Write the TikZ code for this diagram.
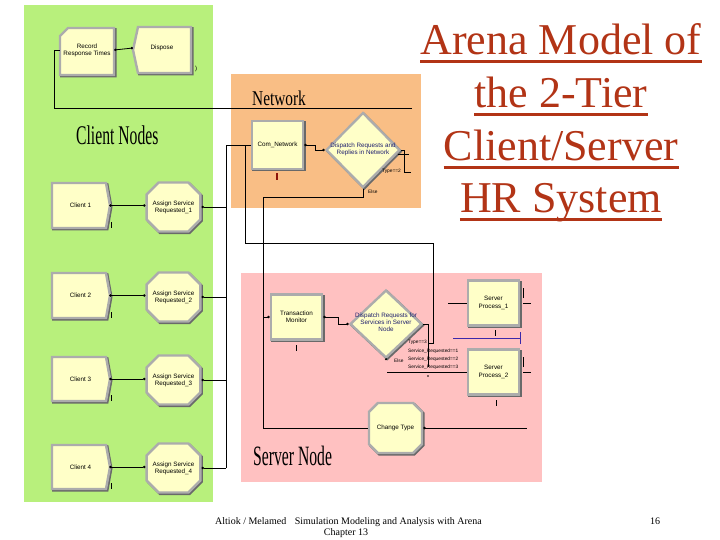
\documentclass[tikz,border=0pt]{standalone}
\usepackage{graphicx}
\usepackage{fontspec}
\setmainfont{Liberation Serif}
\newfontfamily\modfont{Liberation Sans}
\usetikzlibrary{shapes.geometric,shapes.misc,arrows.meta,calc,shadows}

\definecolor{clientbg}{RGB}{184,240,124}
\definecolor{netbg}{RGB}{249,190,133}
\definecolor{srvbg}{RGB}{255,193,193}
\definecolor{modfill}{RGB}{255,255,200}
\definecolor{modedge}{RGB}{172,172,172}
\definecolor{modshadow}{RGB}{105,105,105}
\definecolor{titlered}{RGB}{178,52,22}
\definecolor{decnavy}{RGB}{30,30,110}
\definecolor{ctrred}{RGB}{140,20,10}
\definecolor{lineblue}{RGB}{60,40,170}

\begin{document}
\begin{tikzpicture}[x=1pt,y=-1pt,
  shade3d/.style={drop shadow={shadow xshift=1.3pt, shadow yshift=-1.3pt, fill=modshadow, draw=modshadow, line width=2.4pt, opacity=1}},
  modpath/.style={fill=modfill, draw=modedge, line width=2.4pt, line join=miter, shade3d},
  modtext/.style={inner sep=0pt, align=center, font=\modfont\fontsize{6.3}{7.2}\selectfont},
  boxmod/.style={modtext, rectangle, fill=modfill, draw=modedge, line width=2.4pt, shade3d},
  assignmod/.style={modtext, chamfered rectangle, chamfered rectangle xsep=6pt, chamfered rectangle ysep=6pt, fill=modfill, draw=modedge, line width=2.4pt, shade3d, minimum width=53pt, minimum height=49pt},
  decmod/.style={diamond, inner sep=0pt, fill=modfill, draw=modedge, line width=2.4pt, shade3d},
  dectext/.style={modtext, text=decnavy},
  wire/.style={draw=black, line width=0.8pt},
  dotwire/.style={wire, {Circle[length=2.4pt]}-{Circle[length=2.4pt]}},
  ctr/.style={draw=black, line width=0.9pt},
  tinylab/.style={inner sep=0pt, font=\modfont\fontsize{4.8}{5.5}\selectfont},
  seclab/.style={inner sep=0pt, anchor=base west},
  titleline/.style={inner sep=0pt, anchor=base, text=titlered, font=\fontsize{44}{52}\selectfont},
  uline/.style={draw=titlered, line width=2.4pt},
  foot/.style={inner sep=0pt, anchor=base, font=\fontsize{10}{11}\selectfont}
]
\useasboundingbox (0,0) rectangle (720,540);

% ---------- backgrounds ----------
\fill[clientbg] (24,5) rectangle (213,502);
\fill[netbg] (231,74) rectangle (421,208);
\fill[srvbg] (241,273) rectangle (542,482);

% ---------- title ----------
\node[titleline] (t1) at (561,55) {Arena Model of};
\node[titleline] (t2) at (561,108) {the 2-Tier};
\node[titleline] (t3) at (561,161) {Client/Server};
\node[titleline] (t4) at (561,213) {HR System};
\foreach \t in {t1,t2,t3,t4}{
  \draw[uline] ([yshift=-6.5pt]\t.base west) -- ([yshift=-6.5pt]\t.base east);
}

% ---------- section labels ----------
\node[seclab] (lblclient) at (76,145) {\scalebox{0.58}[1]{\fontsize{27}{30}\selectfont Client Nodes}};
\node[seclab] (lblnet) at (252,106) {\scalebox{0.73}[1]{\fontsize{21}{24}\selectfont Network}};
\node[seclab] (lblsrv) at (253,465) {\scalebox{0.56}[1]{\fontsize{28}{30}\selectfont Server Node}};

% ---------- client side: record and dispose ----------
\draw[modpath] (68,28) -- (114,28) -- (114,75) -- (60,75) -- (60,36) -- cycle;
\node[modtext, minimum width=54pt, minimum height=47pt] (rec) at (87,50) {Record\\Response Times};
\draw[modpath] (138,27) -- (191,27) -- (191,73) -- (138,73) -- (133,50) -- cycle;
\node[modtext, minimum width=58pt, minimum height=46pt] (disp) at (162,48) {Dispose};
\node[tinylab, font=\modfont\fontsize{6}{7}\selectfont] (dispctr) at (196,69) {)};

% ---------- client create modules ----------
\foreach \i/\yt/\yb in {1/183/228, 2/273/318, 3/357/401, 4/445/489}{
  \draw[modpath] (52,\yt) -- (106,\yt) -- (110,{(\yt+\yb)/2}) -- (106,\yb) -- (52,\yb) -- cycle;
  \draw[ctr] (111,\yb-6) -- (111,\yb);
}
\node[modtext, minimum width=57pt, minimum height=45pt] (cli1) at (80.5,205.5) {Client 1};
\node[modtext, minimum width=57pt, minimum height=45pt] (cli2) at (80.5,295.5) {Client 2};
\node[modtext, minimum width=57pt, minimum height=44pt] (cli3) at (80.5,379) {Client 3};
\node[modtext, minimum width=57pt, minimum height=44pt] (cli4) at (80.5,467) {Client 4};

\node[assignmod] (asg1) at (173.5,207) {Assign Service\\Requested\_1};
\node[assignmod] (asg2) at (173.5,297) {Assign Service\\Requested\_2};
\node[assignmod] (asg3) at (173.5,380) {Assign Service\\Requested\_3};
\node[assignmod] (asg4) at (173.5,468) {Assign Service\\Requested\_4};

% ---------- network modules ----------
\node[boxmod, minimum width=51pt, minimum height=48pt] (comnet) at (277.5,145) {Com\_Network};
\draw[ctr, draw=ctrred, line width=1.3pt] (277,173) -- (277,180);
\node[decmod, minimum width=74pt, minimum height=75pt] (netdec) at (363,150) {};
\node[dectext] (netdectxt) at (363,149) {Dispatch Requests and\\Replies in Network};
\node[tinylab, anchor=east] (nettype) at (401,171) {Type==2};
\node[tinylab, anchor=west] (netelse) at (368,192) {Else};

% ---------- server modules ----------
\node[boxmod, minimum width=51pt, minimum height=45pt] (tm) at (296.5,317) {Transaction\\Monitor};
\draw[ctr] (296,345) -- (296,351);
\node[decmod, minimum width=72pt, minimum height=68pt] (srvdec) at (386,324) {};
\node[dectext] (srvdectxt) at (386,322) {Dispatch Requests for\\Services in Server\\Node};
\node[boxmod, minimum width=51pt, minimum height=45pt] (sp1) at (493.5,303) {Server\\Process\_1};
\node[boxmod, minimum width=51pt, minimum height=45pt] (sp2) at (493.5,372) {Server\\Process\_2};
\draw[ctr] (495,330) -- (495,336);
\draw[ctr] (496,400) -- (496,406);
\node[assignmod, minimum width=53pt, minimum height=50pt] (chg) at (395.5,428) {Change Type};

\node[tinylab, anchor=east] (srvtype) at (427,342) {Type==3};
\node[tinylab, anchor=west] (srvs1) at (408,351) {Service\_Requested==1};
\node[tinylab, anchor=west] (srvs2) at (408,359) {Service\_Requested==2};
\node[tinylab, anchor=west] (srvs3) at (408,367) {Service\_Requested==3};
\node[tinylab, anchor=west] (srvelse) at (394,361) {Else};

% ---------- connectors: client side ----------
\draw[dotwire] (rec.east) -- (disp.west -| 133,0);
\coordinate (loopend) at (412,108);
\draw[wire] (loopend) -| ([xshift=-5pt]rec.west) -- (rec.west);
\draw[dotwire] (cli1.east) -- (cli1.east -| asg1.west);
\draw[dotwire] (cli2.east) -- (cli2.east -| asg2.west);
\draw[dotwire] (cli3.east) -- (cli3.east -| asg3.west);
\draw[dotwire] (cli4.east) -- (cli4.east -| asg4.west);

\coordinate (busTop) at (226,145);
\foreach \a in {asg1,asg2,asg3,asg4}{
  \draw[wire, {Circle[length=2.4pt]}-] (\a.east) -- (\a.east -| busTop);
}
\draw[wire] (asg4.east -| busTop) -- (busTop) -- (comnet.west);

% ---------- connectors: network ----------
\draw[dotwire] (comnet.east) -- ++(11,0) |- (netdec.west);
\draw[wire] (netdec.east) -- (404,150) -- (404,172) -- (411,172);
\draw[wire] (398,154) -- (409,154);
\coordinate (elseBus) at (263,197);
\draw[wire] (netdec.south) |- (elseBus) -- (elseBus |- chg.west) -- (chg.west);
\draw[wire, -{Circle[length=2.4pt]}] (elseBus |- tm.west) -- (tm.west);

% ---------- connectors: server ----------
\draw[dotwire] (tm.east) -- ++(15,0) |- (srvdec.west);
\coordinate (t3exit) at (428,343);
\draw[wire] (srvdec.east) -- (srvdec.east -| t3exit) -- (428,367);
\draw[wire] (t3exit) -- (433,343) -- (433,243) -- (245,243) -- (245,145);
\fill (428,376) circle (0.9);
\fill (srvdec.south) circle (1.2);
\coordinate (s1start) at (448,303);
\draw[wire] (s1start) -- (sp1.west);
\coordinate (s3start) at (387,372);
\draw[wire] (s3start) -- (sp2.west);
\draw[wire] ([xshift=3pt]sp1.east) -- ++(8,0);
\draw[wire] ([xshift=3pt,yshift=5pt]sp1.east) -- ++(0,-10);
\draw[wire] ([xshift=3pt]sp2.east) -- ++(8,0);
\draw[wire] ([xshift=3pt,yshift=5pt]sp2.east) -- ++(0,-10);
\coordinate (blueA) at (453,338);
\coordinate (blueB) at (520,338);
\draw[draw=lineblue, line width=0.9pt] (blueA) -- (blueB);
\draw[draw=lineblue, line width=0.9pt] (520,332) -- (520,344);
\coordinate (chgend) at (527,428);
\draw[wire, {Circle[length=2.4pt]}-] (chg.east) -- (chgend);

% ---------- footer ----------
\node[foot, anchor=base west] (foot1) at (215,524) {Altiok / Melamed\hspace{0.6em} Simulation Modeling and Analysis with Arena};
\node[foot] (foot2) at (346,535) {Chapter 13};
\node[foot] (foot3) at (655,524) {16};
\end{tikzpicture}
\end{document}
